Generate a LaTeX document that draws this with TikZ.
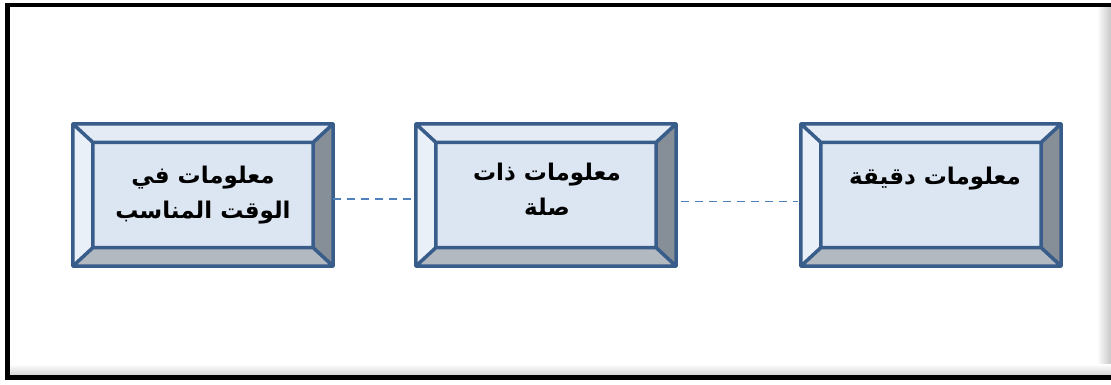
\documentclass[tikz,border=0pt]{standalone}
\usepackage{fontspec}
\newfontfamily\arabicfont[Script=Arabic]{DejaVu Sans}
\TeXXeTstate=1
\usetikzlibrary{calc}
\definecolor{boxline}{HTML}{385D8A}
\definecolor{faceblue}{HTML}{DCE6F2}
\definecolor{topbevel}{HTML}{E4EBF5}
\definecolor{leftbevel}{HTML}{EAF0F8}
\definecolor{rightbevel}{HTML}{868E97}
\definecolor{bottombevel}{HTML}{B2B9C1}
\definecolor{linkblue}{HTML}{4F81BD}

\begin{document}
\begin{tikzpicture}[x=1pt,y=-1pt,
    outerbox/.style={minimum width=260pt,minimum height=142pt,inner sep=0pt},
    innerbox/.style={minimum width=220pt,minimum height=105pt,inner sep=0pt},
    edge/.style={draw=boxline,line width=3.5pt,line join=round},
    link/.style={draw=linkblue,line width=1.4pt,dash pattern=on 8pt off 6pt},
    arabtext/.style={font=\arabicfont\bfseries\fontsize{23}{35}\selectfont,align=center}]

    \useasboundingbox (0,0) rectangle (1111,384);

    % frame with its shadow
    \shade[left color=white,right color=black!22] (1097,7) rectangle (1111,376);
    \shade[top color=white,bottom color=black!18] (10,364) rectangle (1111,376);
    \draw[line width=4.5pt] (1120,5) -- (7.5,5) -- (7.5,377.5) -- (1120,377.5);

    % the three bevelled boxes
    \foreach \n/\x in {1/203,2/546,3/931}{
        \node[outerbox] (o\n) at (\x,195) {};
        \node[innerbox] (i\n) at (o\n) {};
        \fill[faceblue] (i\n.north west) rectangle (i\n.south east);
        \fill[topbevel] (o\n.north west) -- (o\n.north east) -- (i\n.north east) -- (i\n.north west) -- cycle;
        \fill[leftbevel] (o\n.north west) -- (i\n.north west) -- (i\n.south west) -- (o\n.south west) -- cycle;
        \fill[rightbevel] (o\n.north east) -- (i\n.north east) -- (i\n.south east) -- (o\n.south east) -- cycle;
        \fill[bottombevel] (o\n.south west) -- (i\n.south west) -- (i\n.south east) -- (o\n.south east) -- cycle;
        \draw[edge] (o\n.north west) rectangle (o\n.south east)
            (i\n.north west) rectangle (i\n.south east)
            (o\n.north west) -- (i\n.north west) (o\n.north east) -- (i\n.north east)
            (o\n.south west) -- (i\n.south west) (o\n.south east) -- (i\n.south east);
    }

    \node[arabtext] (t1) at (203,195) {\beginR معلومات في\endR\\\beginR الوقت المناسب\endR};
    \node[arabtext] (t2) at (547,189) {\beginR معلومات ذات\endR\\\beginR صلة\endR};
    \node[arabtext] (t3) at (935,179) {\beginR معلومات دقيقة\endR};

    \draw[link] ([yshift=-4pt]o1.east) -- ([yshift=-4pt]o2.west);
    \draw[link] ([yshift=-6.5pt,xshift=5pt]o2.east) -- ([yshift=-6.5pt,xshift=-3pt]o3.west);

\end{tikzpicture}
\end{document}
